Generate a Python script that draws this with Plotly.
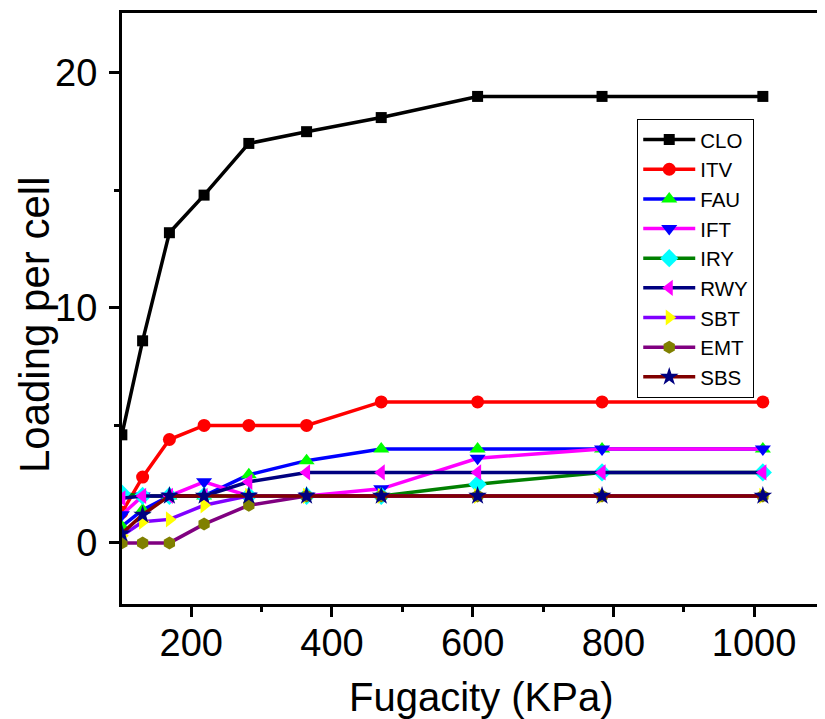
import plotly.graph_objects as go

fugacity = [101.3, 130.8, 168.9, 218.2, 281.8, 363.9, 470.0, 607.0, 783.9, 1012.5]
CLO = [4.6, 8.6, 13.2, 14.8, 17.0, 17.5, 18.1, 19.0, 19.0, 19.0]
ITV = [1.3, 2.8, 4.4, 5.0, 5.0, 5.0, 6.0, 6.0, 6.0, 6.0]
FAU = [0.7, 1.4, 2.0, 2.0, 2.9, 3.5, 4.0, 4.0, 4.0, 4.0]
IFT = [1.2, 2.0, 2.0, 2.6, 2.0, 2.0, 2.3, 3.6, 4.0, 4.0]
IRY = [2.1, 2.0, 2.0, 2.0, 2.0, 2.0, 2.0, 2.5, 3.0, 3.0]
RWY = [1.9, 2.0, 2.0, 2.0, 2.6, 3.0, 3.0, 3.0, 3.0, 3.0]
SBT = [0.3, 0.9, 1.0, 1.6, 2.0, 2.0, 2.0, 2.0, 2.0, 2.0]
EMT = [0.0, 0.0, 0.0, 0.8, 1.6, 2.0, 2.0, 2.0, 2.0, 2.0]
SBS = [0.4, 1.2, 2.0, 2.0, 2.0, 2.0, 2.0, 2.0, 2.0, 2.0]

x_title = "Fugacity (KPa)"
y_title = "Loading per cell"

series = [
    ("CLO", CLO, "#000000", "square", "#000000", 11),
    ("ITV", ITV, "#FF0000", "circle", "#FF0000", 13),
    ("FAU", FAU, "#0000FF", "triangle-up", "#00FF00", 14),
    ("IFT", IFT, "#FF00FF", "triangle-down", "#0000FF", 14),
    ("IRY", IRY, "#008000", "diamond", "#00FFFF", 14),
    ("RWY", RWY, "#000080", "triangle-left", "#FF00FF", 14),
    ("SBT", SBT, "#8000FF", "triangle-right", "#FFFF00", 14),
    ("EMT", EMT, "#800080", "hexagon", "#808000", 13),
    ("SBS", SBS, "#800000", "star", "#000080", 14),
]

fig = go.Figure()
for name, ys, lc, sym, mc, ms in series:
    fig.add_trace(go.Scatter(
        x=fugacity, y=ys, name=name, mode="lines+markers",
        line=dict(color=lc, width=3.5),
        marker=dict(symbol=sym, color=mc, size=ms, line=dict(width=0)),
    ))

font_family = "Arial, Liberation Sans, sans-serif"
fig.update_layout(
    width=817, height=711,
    margin=dict(l=114, r=2, t=5, b=115),
    paper_bgcolor="white", plot_bgcolor="white",
    font=dict(family=font_family, color="black"),
    showlegend=True,
    legend=dict(
        x=0.735, y=0.821, xanchor="left", yanchor="top",
        bordercolor="black", borderwidth=1, bgcolor="white",
        font=dict(size=20.5, family=font_family),
        itemwidth=52, tracegroupgap=0,
    ),
    annotations=[
        dict(text=x_title, xref="paper", yref="paper", x=0.513, y=-0.157,
             xanchor="center", yanchor="middle", showarrow=False,
             font=dict(size=40, family=font_family, color="black")),
        dict(text=y_title, xref="paper", yref="paper", x=-0.1255, y=0.472,
             xanchor="center", yanchor="middle", showarrow=False, textangle=-90,
             font=dict(size=42, family=font_family, color="black")),
    ],
)
fig.update_xaxes(
    range=[101.5, 1098], showgrid=False, zeroline=False, automargin=False,
    showline=True, linecolor="black", linewidth=3, mirror=True,
    ticks="outside", ticklen=10, tickwidth=3, tickcolor="black",
    tickvals=[200, 400, 600, 800, 1000], ticklabelstandoff=-7,
    tickfont=dict(size=38),
    minor=dict(ticks="outside", ticklen=5, tickwidth=3, tickcolor="black", dtick=100, tick0=0, showgrid=False),
)
fig.update_yaxes(
    range=[-2.6, 22.55], showgrid=False, zeroline=False, automargin=False,
    showline=True, linecolor="black", linewidth=3, mirror=True,
    ticks="outside", ticklen=10, tickwidth=3, tickcolor="black",
    tickvals=[0, 10, 20], ticklabelstandoff=4,
    tickfont=dict(size=38),
    minor=dict(ticks="outside", ticklen=5, tickwidth=3, tickcolor="black", dtick=5, tick0=0, showgrid=False),
)

fig.write_html("out.html")
